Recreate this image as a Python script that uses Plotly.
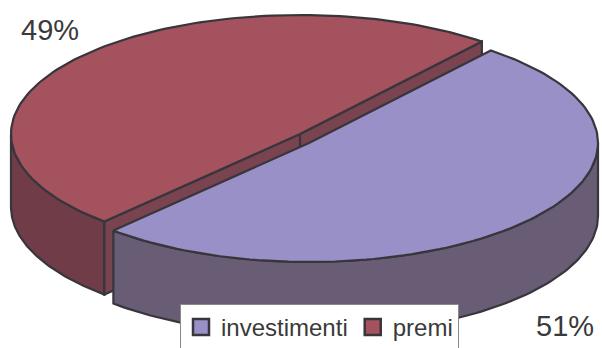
import numpy as np
import plotly.graph_objects as go

# ---- data ----
categories = ["investimenti", "premi"]
values = [51, 49]
top_colors = ["#9A90C8", "#A5525F"]
side_colors = ["#695D76", "#6F3C47"]
radial_colors = ["#5E536C", "#7A4350"]

# ---- layout constants (pixels) ----
W, H = 602, 348
RX, RY, DEPTH = 289, 119, 73
START = 51.0  # boundary angle (deg) between the slices
centers = {"investimenti": (309, 143), "premi": (300, 134)}
EDGE = "#38363C"

total = sum(values)
pct = [v / total for v in values]

# premi runs counter-clockwise from START, investimenti clockwise from START
ang = {
    "premi": (START, START + 360 * pct[1]),
    "investimenti": (START + 360 * pct[1], START + 360),
}


def arc(cx, cy, a0, a1, dy=0, n=120):
    t = np.radians(np.linspace(a0, a1, n))
    return list(cx + RX * np.cos(t)), list(cy + dy - RY * np.sin(t))


def pt(cx, cy, a, dy=0):
    t = np.radians(a)
    return cx + RX * np.cos(t), cy + dy - RY * np.sin(t)


fig = go.Figure()


def poly(xs, ys, color, name):
    fig.add_trace(go.Scatter(
        x=xs + [xs[0]], y=ys + [ys[0]], mode="lines", fill="toself",
        fillcolor=color, line=dict(color=EDGE, width=2.2),
        hoverinfo="skip", showlegend=False, name=name))


def side_wall(name, color):
    cx, cy = centers[name]
    a0, a1 = ang[name]
    lo, hi = max(a0, 180), min(a1, 360)
    if hi <= lo:
        return
    xt, yt = arc(cx, cy, lo, hi)
    xb, yb = arc(cx, cy, hi, lo, dy=DEPTH)
    poly(xt + xb, yt + yb, color, name)


def top_face(name, color):
    cx, cy = centers[name]
    a0, a1 = ang[name]
    xa, ya = arc(cx, cy, a0, a1)
    poly([cx] + xa, [cy] + ya, color, name)


def radial_faces(name, color):
    cx, cy = centers[name]
    a0, a1 = ang[name]
    p1 = pt(cx, cy, a1)
    p0 = pt(cx, cy, a0)
    xs = [p1[0], cx, p0[0], p0[0], cx, p1[0]]
    ys = [p1[1], cy, p0[1], p0[1] + DEPTH, cy + DEPTH, p1[1] + DEPTH]
    poly(xs, ys, color, name)
    fig.add_trace(go.Scatter(x=[cx, cx], y=[cy, cy + DEPTH], mode="lines",
                             line=dict(color=EDGE, width=2.2),
                             hoverinfo="skip", showlegend=False))


side_wall("premi", side_colors[1])
radial_faces("premi", radial_colors[1])
top_face("premi", top_colors[1])
side_wall("investimenti", side_colors[0])
top_face("investimenti", top_colors[0])

for cat, col in zip(categories, top_colors):
    fig.add_trace(go.Scatter(
        x=[None], y=[None], mode="markers", name=cat,
        marker=dict(symbol="square", size=18, color=col,
                    line=dict(color=EDGE, width=2.5))))

FONT = "Liberation Sans, Arial, sans-serif"
label_pos = {"premi": (50, 30), "investimenti": (565, 326)}
for cat, p in zip(categories, pct):
    x, y = label_pos[cat]
    fig.add_annotation(x=x / W, y=1 - y / H, xref="paper", yref="paper",
                       xanchor="center", yanchor="middle",
                       text=f"{round(p * 100)}%", showarrow=False,
                       font=dict(family=FONT, size=29, color="#3A3A3A"))

fig.update_layout(
    width=W, height=H,
    margin=dict(l=0, r=0, t=0, b=0, autoexpand=False),
    paper_bgcolor="white", plot_bgcolor="white",
    xaxis=dict(range=[0, W], visible=False, fixedrange=True),
    yaxis=dict(range=[H, 0], visible=False, fixedrange=True),
    legend=dict(orientation="h", x=180 / W, xanchor="left",
                y=1 - 304 / H, yanchor="top",
                bgcolor="white", bordercolor="#8A8A8A", borderwidth=1,
                font=dict(family=FONT, size=24, color="#3A3A3A"),
                itemsizing="trace", tracegroupgap=0, itemwidth=30),
    showlegend=True,
)

fig.write_html("out.html", config={"displayModeBar": False},
               post_script="document.body.style.margin='0';"
                           "document.body.style.overflow='hidden';")
